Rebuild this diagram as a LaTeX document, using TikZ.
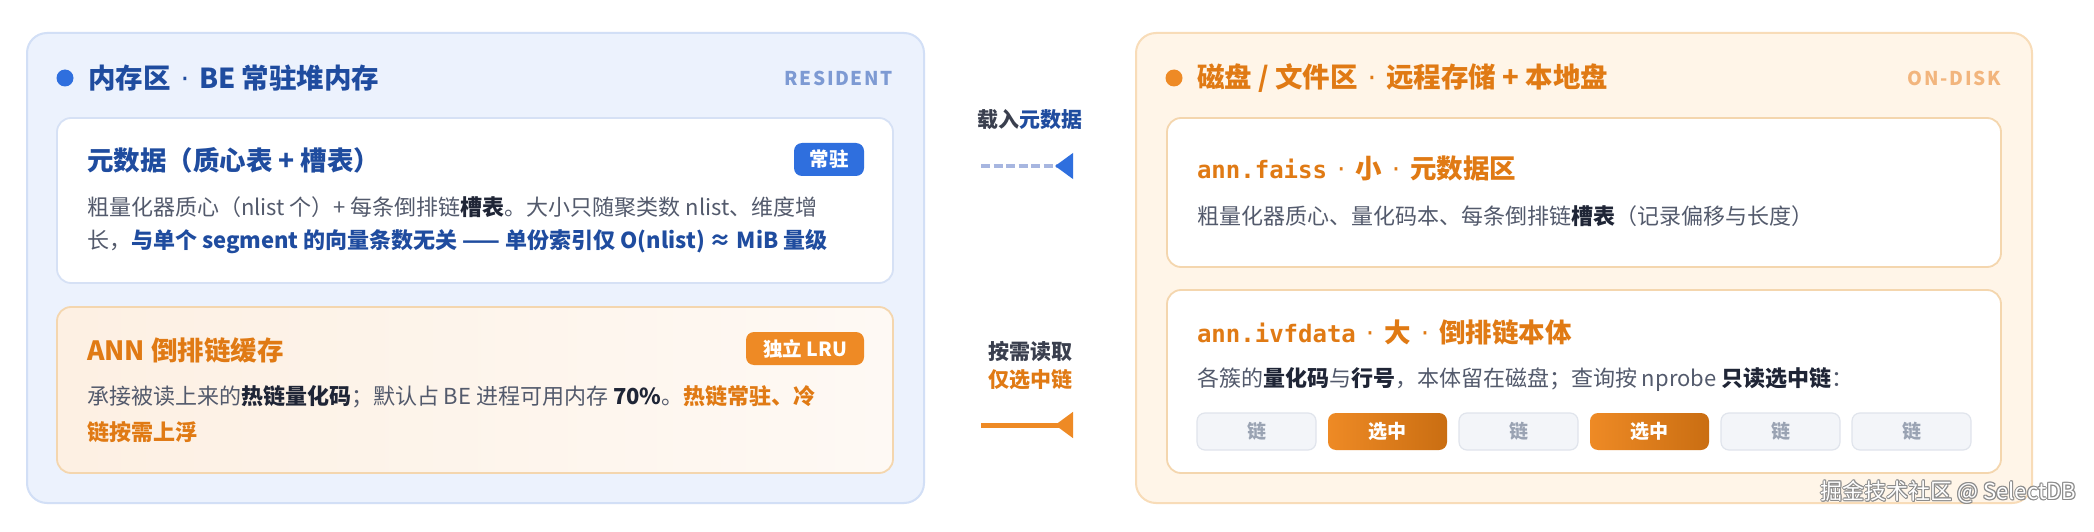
\documentclass[tikz,border=0pt]{standalone}
\usepackage{fontspec}
\setmainfont{Noto Sans CJK SC}
\newfontfamily\monof{DejaVu Sans Mono}
\newfontfamily\dotf{DejaVu Sans}
\newfontfamily\spacedf[LetterSpace=9]{Noto Sans CJK SC}
\usetikzlibrary{arrows.meta}
\definecolor{lpfill}{HTML}{ECF2FD}
\definecolor{lpline}{HTML}{D2DFF6}
\definecolor{rpfill}{HTML}{FFF5E8}
\definecolor{rpline}{HTML}{F8DCB8}
\definecolor{bluet}{HTML}{1F4C9F}
\definecolor{blued}{HTML}{2F6FDE}
\definecolor{bluel}{HTML}{7D9AD3}
\definecolor{orant}{HTML}{E07A14}
\definecolor{orand}{HTML}{EE8A25}
\definecolor{oranl}{HTML}{F2B57D}
\definecolor{bodyc}{HTML}{535A6C}
\definecolor{darkc}{HTML}{1F2536}
\definecolor{wline}{HTML}{D6E1F5}
\definecolor{oline}{HTML}{F4D6AE}
\definecolor{chipf}{HTML}{F3F5F9}
\definecolor{chipl}{HTML}{E0E4EC}
\definecolor{chipt}{HTML}{9AA3B3}
\definecolor{dashc}{HTML}{A7B6E0}
\definecolor{labc}{HTML}{3A3F4E}
\newcommand\kdark[1]{{\bfseries\color{darkc}#1}}
\newcommand\kblue[1]{{\bfseries\color{bluet}#1}}
\newcommand\korange[1]{{\bfseries\color{orant}#1}}
\newcommand\fsz[1]{\fontsize{#1pt}{#1pt}\selectfont}
\newcommand\mdot{\hspace{10pt}{\dotf\mdseries ·}\hspace{10pt}}
\begin{document}
\begin{tikzpicture}[x=1pt,y=-1pt,
  every node/.style={inner sep=0pt, outer sep=0pt},
  panelbox/.style={rounded corners=20pt, line width=2pt, anchor=north west},
  cardbox/.style={rounded corners=14pt, line width=1.8pt, anchor=north west},
  headt/.style={anchor=west, font=\fsz{27.5}\bfseries},
  cardt/.style={anchor=west, font=\fsz{26.5}\bfseries},
  bodyt/.style={anchor=west, font=\fsz{22}, text=bodyc},
  tagt/.style={anchor=east, font=\fsz{19}\spacedf\bfseries},
  badge/.style={rounded corners=8pt, minimum height=33pt, text=white, font=\fsz{19.5}\bfseries},
  chipbox/.style={rounded corners=8pt, minimum width=119pt, minimum height=37pt, anchor=north west, line width=1.2pt, font=\fsz{19}\bfseries},
  chipoff/.style={chipbox, fill=chipf, draw=chipl, text=chipt},
  chipon/.style={chipbox, left color=orand, right color=orant!90!black, draw=none, text=white},
  arrlab/.style={font=\fsz{21}\bfseries, text=labc},
  wmark/.style={anchor=east, font=\fsz{22}}
]
\useasboundingbox[fill=white] (0,0) rectangle (2094,532);

% ---------- left panel ----------
\node[panelbox, fill=lpfill, draw=lpline, minimum width=897pt, minimum height=470pt] (mem) at (27,33) {};
\fill[blued] (65,78) circle (8.5pt);
\node[headt, text=bluet] (memt) at (88,78) {内存区\mdot BE 常驻堆内存};
\node[tagt, text=bluel] (memtag) at (893,78) {RESIDENT};

\node[cardbox, fill=white, draw=wline, minimum width=836pt, minimum height=165pt] (meta) at (57,118) {};
\node[cardt, text=bluet] (metat) at (87,160) {元数据（质心表 + 槽表）};
\node[badge, fill=blued, minimum width=70pt] (metab) at (829,159.5) {常驻};
\node[bodyt] (metal1) at (87,207) {粗量化器质心（nlist 个）+ 每条倒排链\kdark{槽表}。大小只随聚类数 nlist、维度增};
\node[bodyt] (metal2) at (87,242) {长，\kblue{与单个 segment 的向量条数无关 —— 单份索引仅 O(nlist) ≈ MiB 量级}};

\node[cardbox, left color=orand!13, right color=orand!5, draw=oline, minimum width=836pt, minimum height=166pt] (cache) at (57,307) {};
\node[cardt, text=orant] (cachet) at (87,350) {ANN 倒排链缓存};
\node[badge, fill=orand, minimum width=118pt] (cacheb) at (805,348.5) {独立 LRU};
\node[bodyt] (cachel1) at (87,397) {承接被读上来的\kdark{热链量化码}；默认占 BE 进程可用内存 \kdark{70\%}。\korange{热链常驻、冷}};
\node[bodyt] (cachel2) at (87,432) {\korange{链按需上浮}};

% ---------- right panel ----------
\node[panelbox, fill=rpfill, draw=rpline, minimum width=896pt, minimum height=470pt] (disk) at (1136,33) {};
\fill[orand] (1174,78) circle (8.5pt);
\node[headt, text=orant] (diskt) at (1197,78) {磁盘 / 文件区\mdot 远程存储 + 本地盘};
\node[tagt, text=oranl] (disktag) at (2001,78) {ON-DISK};

\node[cardbox, fill=white, draw=oline, minimum width=834pt, minimum height=149pt] (faiss) at (1167,118) {};
\node[cardt, text=orant] (faisst) at (1197,168) {{\monof\fsz{24}\bfseries ann.faiss}\mdot 小\mdot 元数据区};
\node[bodyt] (faissl) at (1197,216) {粗量化器质心、量化码本、每条倒排链\kdark{槽表}（记录偏移与长度）};

\node[cardbox, fill=white, draw=oline, minimum width=834pt, minimum height=183pt] (ivf) at (1167,290) {};
\node[cardt, text=orant] (ivft) at (1197,332) {{\monof\fsz{24}\bfseries ann.ivfdata}\mdot 大\mdot 倒排链本体};
\node[bodyt] (ivfl) at (1197,380) {各簇的\kdark{量化码}与\kdark{行号}，本体留在磁盘；查询按 nprobe \kdark{只读选中链}：};

\node[chipoff] (c1) at (1197,413) {链};
\node[chipon]  (c2) at (1328,413) {选中};
\node[chipoff] (c3) at (1459,413) {链};
\node[chipon]  (c4) at (1590,413) {选中};
\node[chipoff] (c5) at (1721,413) {链};
\node[chipoff] (c6) at (1852,413) {链};

% ---------- connectors ----------
\node[arrlab] (lab1) at (1030,120) {载入{\color{bluet}元数据}};
\coordinate (a1s) at (981,166);
\coordinate (a1e) at (1073,166);
\draw[dashc, line width=4pt, dash pattern=on 9pt off 3.5pt,
  -{Triangle[reversed, length=18pt, width=25pt, color=blued]}] (a1s) -- (a1e);

\node[arrlab] (lab2) at (1030,352) {按需读取};
\node[arrlab, text=orant] (lab3) at (1030,380) {仅选中链};
\coordinate (a2s) at (981,425);
\coordinate (a2e) at (1073,425);
\draw[orand, line width=5pt,
  -{Triangle[reversed, length=18pt, width=25pt]}] (a2s) -- (a2e);

% ---------- watermark ----------
\foreach \dx/\dy in {-1/0,1/0,0/-1,0/1,-0.7/-0.7,0.7/0.7,-0.7/0.7,0.7/-0.7}
  \node[wmark, text=black!45] at (2076+\dx,492+\dy) {掘金技术社区 @ SelectDB};
\node[wmark, text=white] (wm) at (2076,492) {掘金技术社区 @ SelectDB};
\end{tikzpicture}
\end{document}
